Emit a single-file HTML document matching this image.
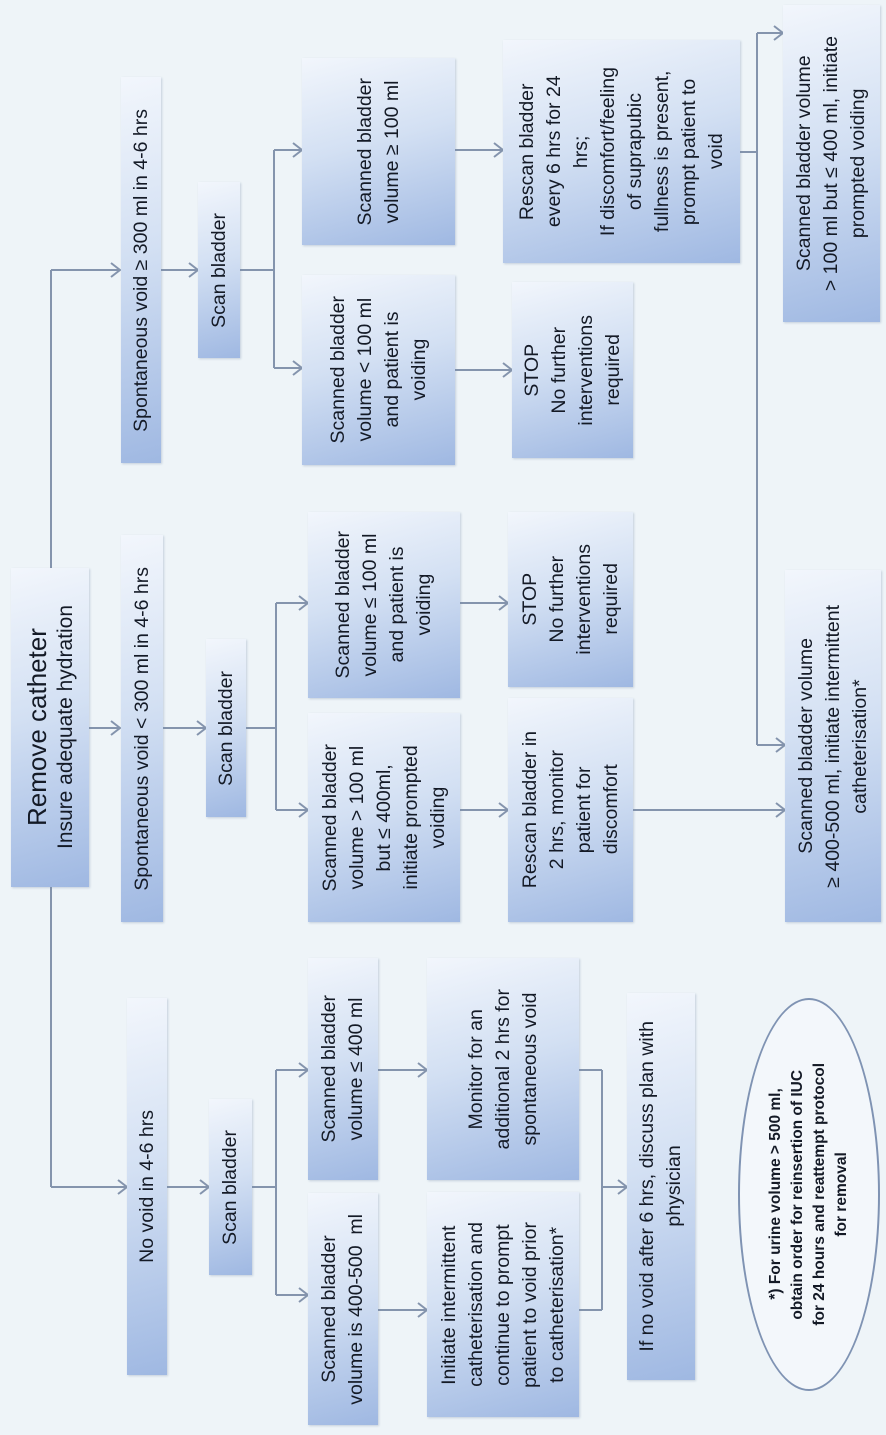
<!DOCTYPE html>
<html><head><meta charset="utf-8"><style>
html,body{margin:0;padding:0;}
body{width:886px;height:1435px;background:#eef4f8;position:relative;overflow:hidden;font-family:"Liberation Sans",sans-serif;color:#141a26;}
.b{position:absolute;display:flex;align-items:center;justify-content:center;
background:linear-gradient(165deg,#f2f6fc 0%,#d3e0f3 45%,#9fb8e2 100%);
box-shadow:1px 1px 2px rgba(120,140,170,.35);}
.t{writing-mode:vertical-rl;transform:rotate(180deg);text-align:center;font-size:19.5px;line-height:27px;white-space:nowrap;}
svg{position:absolute;left:0;top:0;}
.ell{position:absolute;left:738px;top:998px;width:142px;height:393px;border:2px solid #7f93b3;border-radius:50%;background:#f3f7fb;display:flex;align-items:center;justify-content:center;box-sizing:border-box;}
</style></head><body>

<svg width="886" height="1435" viewBox="0 0 886 1435" fill="none" stroke="#8494ad" stroke-width="2">
<path d="M51 270 V1187"/>
<path d="M51 270 H119"/><path d="M111 263 L120 270 L111 277"/>
<path d="M89 728 H119"/><path d="M111 721 L120 728 L111 735"/>
<path d="M51 1187 H126"/><path d="M118 1180 L127 1187 L118 1194"/>
<path d="M161 270 H197"/><path d="M189 263 L198 270 L189 277"/>
<path d="M240 270 H274 M274 150 V368 M274 150 H301 M274 368 H301"/>
<path d="M293 143 L302 150 L293 157"/><path d="M293 361 L302 368 L293 375"/>
<path d="M455 150 H502"/><path d="M494 143 L503 150 L494 157"/>
<path d="M455 370 H511"/><path d="M503 363 L512 370 L503 377"/>
<path d="M740 152 H757 M757 33 V745 M757 33 H782 M757 745 H784"/>
<path d="M774 26 L783 33 L774 40"/><path d="M776 738 L785 745 L776 752"/>
<path d="M163 728 H205"/><path d="M197 721 L206 728 L197 735"/>
<path d="M246 728 H276 M276 603 V810 M276 603 H307 M276 810 H307"/>
<path d="M299 596 L308 603 L299 610"/><path d="M299 803 L308 810 L299 817"/>
<path d="M460 603 H507"/><path d="M499 596 L508 603 L499 610"/>
<path d="M460 810 H507"/><path d="M499 803 L508 810 L499 817"/>
<path d="M633 810 H784"/><path d="M776 803 L785 810 L776 817"/>
<path d="M166 1187 H208"/><path d="M200 1180 L209 1187 L200 1194"/>
<path d="M252 1187 H276 M276 1070 V1295 M276 1070 H307 M276 1295 H307"/>
<path d="M299 1063 L308 1070 L299 1077"/><path d="M299 1288 L308 1295 L299 1302"/>
<path d="M378 1070 H426"/><path d="M418 1063 L427 1070 L418 1077"/>
<path d="M378 1310 H426"/><path d="M418 1303 L427 1310 L418 1317"/>
<path d="M579 1070 H602 M579 1310 H602 M602 1070 V1310 M602 1187 H626"/>
<path d="M618 1180 L627 1187 L618 1194"/>
</svg>

<div class="b" style="left:11px;top:568px;width:78px;height:319px;"><div class="t" style="font-size:21px;line-height:26px"><span style="font-size:26px;line-height:32px">Remove catheter</span><br>Insure adequate hydration</div></div>

<div class="b" style="left:121px;top:77px;width:40px;height:386px;"><div class="t">Spontaneous void ≥ 300 ml in 4-6 hrs</div></div>
<div class="b" style="left:198px;top:182px;width:42px;height:176px;"><div class="t">Scan bladder</div></div>
<div class="b" style="left:302px;top:58px;width:153px;height:187px;"><div class="t">Scanned bladder<br>volume ≥ 100 ml</div></div>
<div class="b" style="left:302px;top:275px;width:153px;height:190px;"><div class="t">Scanned bladder<br>volume &lt; 100 ml<br>and patient is<br>voiding</div></div>
<div class="b" style="left:503px;top:40px;width:237px;height:223px;"><div class="t" style="line-height:27px">Rescan bladder<br>every 6 hrs for 24<br>hrs;<br>If discomfort/feeling<br>of suprapubic<br>fullness is present,<br>prompt patient to<br>void</div></div>
<div class="b" style="left:512px;top:282px;width:121px;height:176px;"><div class="t">STOP<br>No further<br>interventions<br>required</div></div>
<div class="b" style="left:783px;top:5px;width:97px;height:317px;"><div class="t">Scanned bladder volume<br>&gt; 100 ml but ≤ 400 ml, initiate<br>prompted voiding</div></div>

<div class="b" style="left:121px;top:535px;width:42px;height:387px;"><div class="t">Spontaneous void &lt; 300 ml in 4-6 hrs</div></div>
<div class="b" style="left:206px;top:639px;width:40px;height:178px;"><div class="t">Scan bladder</div></div>
<div class="b" style="left:308px;top:512px;width:152px;height:186px;"><div class="t">Scanned bladder<br>volume ≤ 100 ml<br>and patient is<br>voiding</div></div>
<div class="b" style="left:308px;top:713px;width:152px;height:209px;"><div class="t">Scanned bladder<br>volume &gt; 100 ml<br>but ≤ 400ml,<br>initiate prompted<br>voiding</div></div>
<div class="b" style="left:508px;top:512px;width:125px;height:175px;"><div class="t">STOP<br>No further<br>interventions<br>required</div></div>
<div class="b" style="left:508px;top:698px;width:125px;height:224px;"><div class="t">Rescan bladder in<br>2 hrs, monitor<br>patient for<br>discomfort</div></div>
<div class="b" style="left:785px;top:570px;width:96px;height:352px;"><div class="t">Scanned bladder volume<br>≥ 400-500 ml, initiate intermittent<br>catheterisation*</div></div>

<div class="b" style="left:127px;top:998px;width:40px;height:377px;"><div class="t">No void in 4-6 hrs</div></div>
<div class="b" style="left:209px;top:1099px;width:43px;height:176px;"><div class="t">Scan bladder</div></div>
<div class="b" style="left:308px;top:958px;width:70px;height:222px;"><div class="t">Scanned bladder<br>volume ≤ 400 ml</div></div>
<div class="b" style="left:308px;top:1193px;width:70px;height:232px;"><div class="t">Scanned bladder<br>volume is 400-500&nbsp; ml</div></div>
<div class="b" style="left:427px;top:958px;width:152px;height:222px;"><div class="t">Monitor for an<br>additional 2 hrs for<br>spontaneous void</div></div>
<div class="b" style="left:427px;top:1192px;width:152px;height:225px;"><div class="t" style="line-height:27px">Initiate intermittent<br>catheterisation and<br>continue to prompt<br>patient to void prior<br>to catheterisation*</div></div>
<div class="b" style="left:627px;top:993px;width:68px;height:387px;"><div class="t">If no void after 6 hrs, discuss plan with<br>physician</div></div>

<div class="ell"><div class="t" style="font-size:15.5px;line-height:22px;font-weight:bold">*) For urine volume &gt; 500 ml,<br>obtain order for reinsertion of IUC<br>for 24 hours and reattempt protocol<br>for removal</div></div>

</body></html>
